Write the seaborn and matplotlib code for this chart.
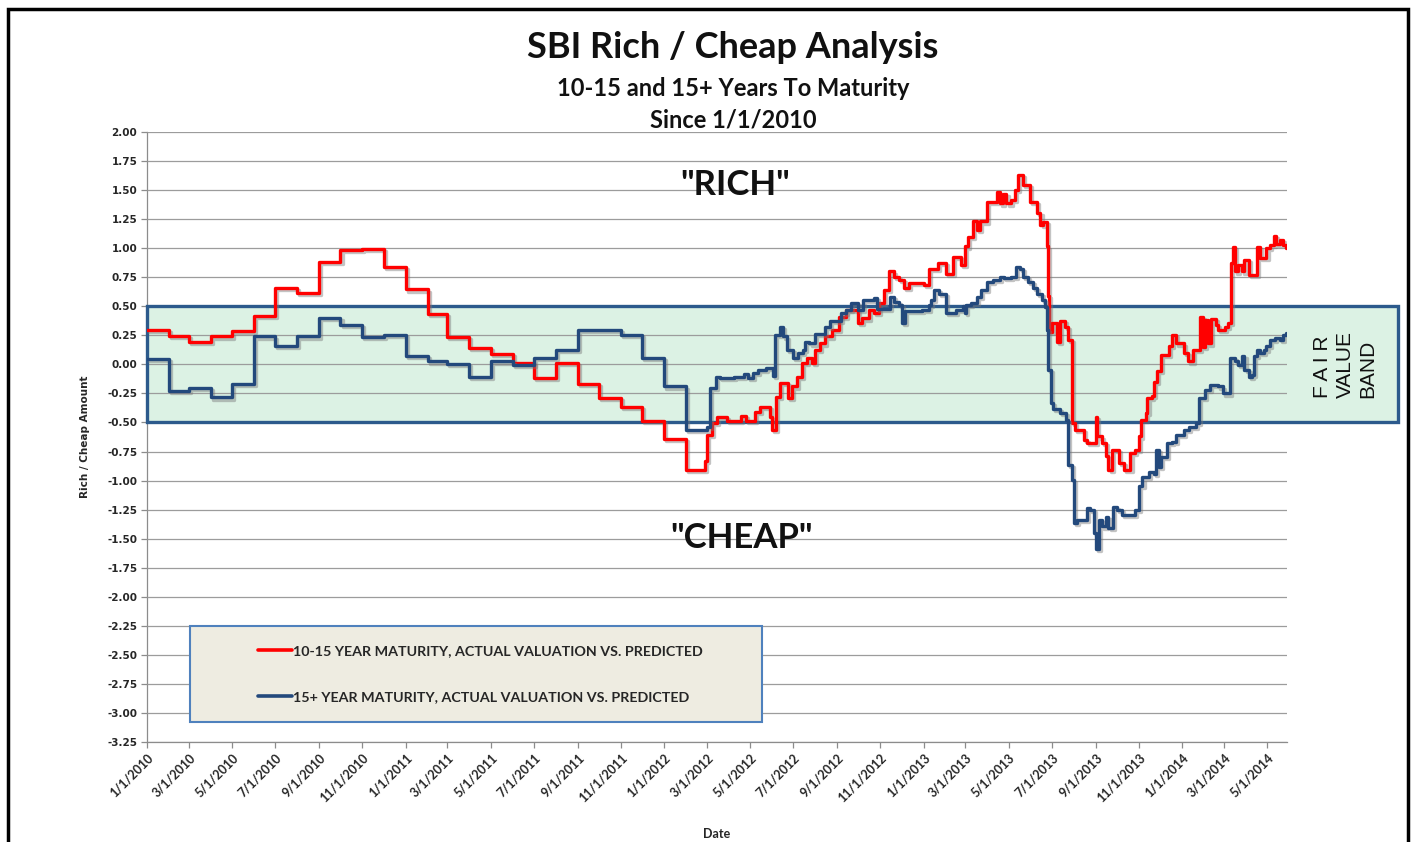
import matplotlib
matplotlib.use('Agg')
import numpy as np
import pandas as pd
import seaborn as sns
import matplotlib.pyplot as plt
import matplotlib.patheffects as pe
from matplotlib.patches import Rectangle
from matplotlib.lines import Line2D
from matplotlib.transforms import blended_transform_factory

# series (value changes, drawn as steps)
red_dates = [
    '2010-01-01', '2010-02-01', '2010-03-01', '2010-04-01', '2010-05-01', '2010-06-01',
    '2010-07-01', '2010-08-01', '2010-09-01', '2010-10-01', '2010-11-01', '2010-12-01',
    '2011-01-01', '2011-02-01', '2011-03-01', '2011-04-01', '2011-05-01', '2011-06-01',
    '2011-07-01', '2011-08-01', '2011-09-01', '2011-10-01', '2011-11-01', '2011-12-01',
    '2012-01-01', '2012-02-01', '2012-02-27', '2012-03-01', '2012-03-08', '2012-03-15',
    '2012-03-30', '2012-04-18', '2012-04-26', '2012-05-08', '2012-05-15', '2012-05-29',
    '2012-06-01', '2012-06-07', '2012-06-13', '2012-06-24', '2012-06-29', '2012-07-06',
    '2012-07-13', '2012-07-20', '2012-07-27', '2012-08-01', '2012-08-08', '2012-08-15',
    '2012-08-25', '2012-09-04', '2012-09-13', '2012-10-01', '2012-10-06', '2012-10-16',
    '2012-10-23', '2012-10-30', '2012-11-06', '2012-11-13', '2012-11-20', '2012-11-27',
    '2012-12-04', '2012-12-11',
    '2013-01-02', '2013-01-09', '2013-01-21', '2013-02-02', '2013-02-11', '2013-02-23',
    '2013-02-28', '2013-03-05', '2013-03-12', '2013-03-17', '2013-03-21', '2013-03-31',
    '2013-04-14', '2013-04-19', '2013-04-23', '2013-04-28', '2013-05-05', '2013-05-10',
    '2013-05-14', '2013-05-21', '2013-05-31', '2013-06-10', '2013-06-15', '2013-06-19',
    '2013-06-24', '2013-06-26', '2013-06-27', '2013-07-01', '2013-07-08', '2013-07-13',
    '2013-07-20', '2013-07-24', '2013-07-29', '2013-08-03', '2013-08-15', '2013-08-20',
    '2013-09-01', '2013-09-03', '2013-09-10', '2013-09-15', '2013-09-19', '2013-09-24',
    '2013-10-04', '2013-10-11', '2013-10-20', '2013-10-27', '2013-11-01', '2013-11-04',
    '2013-11-11', '2013-11-13', '2013-11-20', '2013-11-22', '2013-11-27', '2013-12-02',
    '2013-12-13', '2013-12-18', '2013-12-23',
    '2014-01-04', '2014-01-09', '2014-01-16', '2014-01-26', '2014-01-30', '2014-02-02',
    '2014-02-07', '2014-02-11', '2014-02-18', '2014-02-20', '2014-03-02', '2014-03-07',
    '2014-03-11', '2014-03-14', '2014-03-16', '2014-03-21', '2014-03-26', '2014-03-30',
    '2014-04-05', '2014-04-16', '2014-04-21', '2014-04-30', '2014-05-05', '2014-05-10',
    '2014-05-14', '2014-05-19', '2014-05-23', '2014-05-28',
]
red_values = [
    0.30, 0.245, 0.195, 0.24, 0.285, 0.415, 0.655, 0.615, 0.885, 0.985, 0.995, 0.84,
    0.645, 0.435, 0.235, 0.145, 0.09, 0.015, -0.12, 0.015, -0.165, -0.29, -0.365, -0.485,
    -0.645, -0.91, -0.835, -0.61, -0.505, -0.45,
    -0.49, -0.44, -0.49, -0.41, -0.365, -0.45,
    -0.565, -0.28, -0.16, -0.29, -0.19, -0.105,
    0.01, 0.055, 0.01, 0.125, 0.18, 0.24,
    0.295, 0.41, 0.47, 0.355, 0.395, 0.47,
    0.44, 0.525, 0.64, 0.80, 0.755, 0.725,
    0.655, 0.70,
    0.68, 0.825, 0.87, 0.78, 0.925, 0.855,
    1.015, 1.10, 1.23, 1.155, 1.23, 1.40,
    1.485, 1.385, 1.47, 1.385, 1.415, 1.50,
    1.63, 1.545, 1.40, 1.30, 1.20, 1.225,
    1.015, 0.585, 0.28, 0.355, 0.195, 0.37,
    0.325, 0.21, -0.505, -0.565, -0.65, -0.68,
    -0.45, -0.62, -0.68, -0.79, -0.91, -0.735,
    -0.85, -0.91, -0.765, -0.735, -0.62, -0.48,
    -0.42, -0.29, -0.275, -0.15, -0.06, 0.08,
    0.155, 0.255, 0.18,
    0.095, 0.025, 0.125, 0.41, 0.15, 0.38,
    0.18, 0.39, 0.34, 0.30, 0.325, 0.355,
    0.87, 1.01, 0.80, 0.855, 0.80, 0.90,
    0.77, 1.01, 0.915, 1.0, 1.03, 1.105,
    1.04, 1.07, 1.03, 1.0,
]

blue_dates = [
    '2010-01-01', '2010-02-01', '2010-03-01', '2010-04-01', '2010-05-01', '2010-06-01',
    '2010-07-01', '2010-08-01', '2010-09-01', '2010-10-01', '2010-11-01', '2010-12-01',
    '2011-01-01', '2011-02-01', '2011-03-01', '2011-04-01', '2011-05-01', '2011-06-01',
    '2011-07-01', '2011-08-01', '2011-09-01', '2011-11-01', '2011-12-01',
    '2012-01-01', '2012-02-01', '2012-03-01', '2012-03-06', '2012-03-14', '2012-03-20',
    '2012-04-09', '2012-04-23', '2012-04-28', '2012-05-05', '2012-05-12', '2012-05-24',
    '2012-06-03', '2012-06-05', '2012-06-13', '2012-06-17', '2012-06-22', '2012-07-01',
    '2012-07-08', '2012-07-15', '2012-07-17', '2012-07-24', '2012-08-01', '2012-08-15',
    '2012-08-22', '2012-09-06', '2012-09-13', '2012-09-20', '2012-10-01', '2012-10-08',
    '2012-10-23', '2012-10-27', '2012-11-15', '2012-11-20', '2012-11-27', '2012-12-01',
    '2012-12-06', '2012-12-30',
    '2013-01-09', '2013-01-11', '2013-01-16', '2013-01-23', '2013-02-02', '2013-02-16',
    '2013-02-25', '2013-03-01', '2013-03-02', '2013-03-09', '2013-03-17', '2013-03-23',
    '2013-03-31', '2013-04-09', '2013-04-19', '2013-04-25', '2013-05-05', '2013-05-12',
    '2013-05-17', '2013-05-21', '2013-05-28', '2013-06-05', '2013-06-10', '2013-06-17',
    '2013-06-21', '2013-06-24', '2013-06-25', '2013-06-30', '2013-07-03', '2013-07-12',
    '2013-07-21', '2013-07-24', '2013-07-29', '2013-08-01', '2013-08-06', '2013-08-20',
    '2013-08-24', '2013-08-29', '2013-09-01', '2013-09-06', '2013-09-10', '2013-09-15',
    '2013-09-19', '2013-09-26', '2013-10-01', '2013-10-08', '2013-10-27', '2013-11-01',
    '2013-11-06', '2013-11-15', '2013-11-22', '2013-11-25', '2013-11-29', '2013-12-02',
    '2013-12-11', '2013-12-18', '2013-12-23',
    '2014-01-04', '2014-01-11', '2014-01-20', '2014-01-25', '2014-02-02', '2014-02-09',
    '2014-02-20', '2014-02-27', '2014-03-09', '2014-03-16', '2014-03-21', '2014-03-26',
    '2014-03-30', '2014-04-05', '2014-04-09', '2014-04-12', '2014-04-16', '2014-04-21',
    '2014-04-26', '2014-04-30', '2014-05-05', '2014-05-12', '2014-05-19', '2014-05-23',
    '2014-05-28',
]
blue_values = [
    0.05, -0.225, -0.20, -0.285, -0.165, 0.24, 0.16, 0.24, 0.40, 0.34, 0.235, 0.255,
    0.07, 0.025, 0.005, -0.105, 0.025, -0.005, 0.055, 0.125, 0.295, 0.255, 0.055,
    -0.19, -0.565, -0.535, -0.205, -0.105, -0.12,
    -0.105, -0.08, -0.12, -0.075, -0.05, -0.03,
    -0.10, 0.255, 0.325, 0.24, 0.125, 0.055,
    0.095, 0.125, 0.195, 0.18, 0.265, 0.325,
    0.37, 0.44, 0.47, 0.525, 0.47, 0.555,
    0.57, 0.48, 0.58, 0.54, 0.51, 0.355,
    0.46, 0.47,
    0.51, 0.555, 0.64, 0.61, 0.44, 0.468,
    0.50, 0.44, 0.51, 0.525, 0.58, 0.64,
    0.71, 0.725, 0.755, 0.74, 0.755, 0.84,
    0.825, 0.755, 0.71, 0.655, 0.61, 0.555,
    0.495, 0.295, -0.05, -0.335, -0.38, -0.42,
    -0.48, -0.865, -0.995, -1.365, -1.34, -1.24,
    -1.25, -1.455, -1.585, -1.34, -1.395, -1.31,
    -1.41, -1.225, -1.25, -1.295, -1.25, -1.05,
    -0.965, -0.925, -0.94, -0.735, -0.88, -0.795,
    -0.68, -0.665, -0.61,
    -0.565, -0.535, -0.505, -0.29, -0.22, -0.18,
    -0.19, -0.25, 0.055, 0.025, -0.005, 0.07,
    -0.045, -0.105, -0.09, 0.07, 0.125, 0.095,
    0.125, 0.155, 0.21, 0.225, 0.21, 0.255,
    0.27,
]

series_names = ['10-15 YEAR MATURITY, ACTUAL VALUATION VS. PREDICTED',
                '15+ YEAR MATURITY, ACTUAL VALUATION VS. PREDICTED']
line_colors = ['#ff0000', '#23497c']
band_low, band_high = -0.5, 0.5

df = pd.concat([
    pd.DataFrame({'date': pd.to_datetime(red_dates), 'value': red_values, 'series': series_names[0]}),
    pd.DataFrame({'date': pd.to_datetime(blue_dates), 'value': blue_values, 'series': series_names[1]}),
])

sns.set_style('white')
plt.rcParams['font.family'] = ['Lato', 'DejaVu Sans']

W, H = 1414, 842
fig = plt.figure(figsize=(W / 100, H / 100), dpi=100)
ax = fig.add_axes([147 / W, 1 - 742 / H, 1140 / W, 610 / H])

shadow = [pe.SimpleLineShadow(offset=(1.5, -1.5), shadow_color='#7a7a7a', alpha=0.45), pe.Normal()]
sns.lineplot(data=df, x='date', y='value', hue='series', palette=line_colors,
             drawstyle='steps-post', linewidth=2.4, estimator=None, legend=False,
             path_effects=shadow, zorder=3, ax=ax)

# fair value band, runs past the plot to the right edge
trans = blended_transform_factory(ax.transAxes, ax.transData)
band_w = (1398 - 147) / 1140
ax.add_patch(Rectangle((0, band_low), band_w, band_high - band_low, transform=trans,
                       facecolor='#dcf2e4', edgecolor='none', zorder=1, clip_on=False))
ax.add_patch(Rectangle((0, band_low), band_w, band_high - band_low, transform=trans,
                       facecolor='none', edgecolor='#2c5a8c', linewidth=2.4, zorder=2.6,
                       clip_on=False))

ax.set_axisbelow(False)
ax.set_ylim(-3.25, 2.0)
yticks = np.arange(-3.25, 2.01, 0.25)
ax.set_yticks(yticks)
ax.set_yticklabels([f'{v:.2f}' for v in yticks], fontfamily='DejaVu Sans',
                   fontweight='bold', fontsize=7.5)
ax.yaxis.grid(True, color='#9c9c9c', linewidth=0.9)
ax.xaxis.grid(False)

tick_dates = pd.date_range('2010-01-01', '2014-05-01', freq='2MS')
ax.set_xlim(pd.Timestamp('2010-01-01'), pd.Timestamp('2014-05-29'))
ax.set_xticks(tick_dates)
ax.set_xticklabels([f'{d.month}/{d.day}/{d.year}' for d in tick_dates], rotation=45,
                   ha='right', rotation_mode='anchor', fontweight='bold', fontsize=9)
ax.tick_params(axis='both', which='major', direction='out', length=4, width=0.9,
               color='#8c8c8c', left=True, bottom=True, pad=3)

for side in ['top', 'right']:
    ax.spines[side].set_visible(False)
for side in ['left', 'bottom']:
    ax.spines[side].set_color('#8c8c8c')
    ax.spines[side].set_linewidth(0.9)

ax.set_xlabel('')
ax.set_ylabel('')
fig.text(717 / W, 1 - 834 / H, 'Date', ha='center', va='center', fontsize=9,
         fontweight='bold')
fig.text(85 / W, 1 - 437 / H, 'Rich / Cheap Amount', ha='center', va='center',
         rotation=90, fontsize=7.5, fontweight='bold', fontfamily='DejaVu Sans')

# titles
fig.text(733 / W, 1 - 48 / H, 'SBI Rich / Cheap Analysis', ha='center', va='center',
         fontsize=26, fontweight='bold', color='#111111')
fig.text(733 / W, 1 - 88 / H, '10-15 and 15+ Years To Maturity', ha='center', va='center',
         fontsize=17, fontweight='bold', color='#111111')
fig.text(733 / W, 1 - 120 / H, 'Since 1/1/2010', ha='center', va='center',
         fontsize=17, fontweight='bold', color='#111111')

fig.text(735 / W, 1 - 185 / H, '"RICH"', ha='center', va='center', fontsize=25,
         fontweight='bold', color='#111111')
fig.text(742 / W, 1 - 538 / H, '"CHEAP"', ha='center', va='center', fontsize=25,
         fontweight='bold', color='#111111')

fig.text(1345 / W, 1 - 364 / H, 'F A I R\nVALUE\nBAND', ha='center', va='center',
         rotation=90, multialignment='left', linespacing=1.25, fontsize=15,
         fontfamily='Liberation Sans', color='#111111')

# legend box
fig.add_artist(Rectangle((190 / W, 1 - 722 / H), 572 / W, 96 / H, transform=fig.transFigure,
                         facecolor='#eeece1', edgecolor='#4f81bd', linewidth=1.5, zorder=4))
handles = [Line2D([], [], color=c, linewidth=2.6) for c in line_colors]
fig.legend(handles, series_names, loc='center left', bbox_to_anchor=(251 / W, 1 - 674 / H),
           bbox_transform=fig.transFigure, frameon=False, borderpad=0,
           handlelength=2.4, handletextpad=0.05, labelspacing=2.35,
           prop={'weight': 'bold', 'size': 10.3})

# outer black frame
fig.add_artist(Rectangle((8 / W, -0.05), 1400 / W, 1 - 9 / H + 0.05, transform=fig.transFigure,
                         fill=False, edgecolor='black', linewidth=2.5, zorder=10))

fig.savefig('out.png', dpi=100, facecolor='white')
